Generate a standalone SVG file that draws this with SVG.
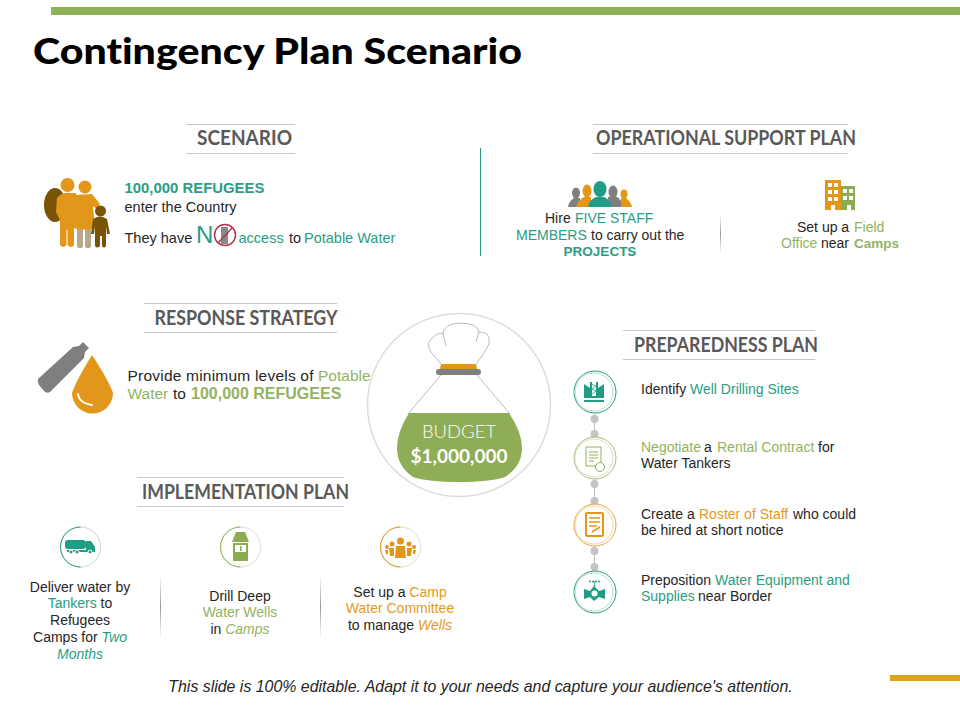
<svg xmlns="http://www.w3.org/2000/svg" width="960" height="720" viewBox="0 0 960 720">
<style>
text{font-family:"Liberation Sans",Arial,sans-serif;font-size:14px;fill:#262626;font-variant-ligatures:none}
.h{font-family:Lato,"Liberation Sans",sans-serif;font-size:20px;font-weight:700;fill:#595959;text-anchor:middle}
.c{text-anchor:middle}
.t{fill:#2a9d84}.g{fill:#93b35f}.o{fill:#e39a1c}
.b{font-weight:700}.i{font-style:italic}
.s{font-size:14.500px}.r{font-size:15.500px}
.rule{stroke:#c8c8c8;stroke-width:1;fill:none}
.tl{fill:#1f9e85}.gl{fill:#8bac50}.ol{fill:#e2961a}.br{fill:#7a5406}.gy{fill:#7f7f7f}
.dot{fill:#c4c4c4}
.bag{fill:none;stroke:#a8a8a8;stroke-width:.8}
</style>
<defs>
<linearGradient id="fade" x1="0" y1="0" x2="0" y2="1"><stop offset="0" stop-color="#999" stop-opacity="0"/><stop offset=".5" stop-color="#999"/><stop offset="1" stop-color="#999" stop-opacity="0"/></linearGradient>
</defs>
<rect x="51" y="7" width="909" height="8" fill="#8fb158"/>
<rect x="890" y="675" width="70" height="6" fill="#e2a021"/>
<text x="33" y="64" style="font-family:Lato,'Liberation Sans',sans-serif;font-size:36px;font-weight:900;fill:#000" textLength="489" lengthAdjust="spacingAndGlyphs">Contingency Plan Scenario</text>

<g id="connectors">
<path d="M480.500 148V256" stroke="#2a9d84" stroke-width="1" fill="none"/>
<rect x="720" y="215" width="1" height="38" fill="url(#fade)"/>
<rect x="160" y="576" width="1" height="62" fill="url(#fade)"/>
<rect x="320" y="576" width="1" height="62" fill="url(#fade)"/>
<path d="M594.500 414V438M594.500 478V503M594.500 546V570" stroke="#bbb" stroke-width="1" fill="none"/>
<circle class="dot" cx="594.500" cy="419" r="4"/><circle class="dot" cx="594.500" cy="434" r="4"/>
<circle class="dot" cx="594.500" cy="484" r="4"/><circle class="dot" cx="594.500" cy="501" r="4"/>
<circle class="dot" cx="594.500" cy="551" r="4"/><circle class="dot" cx="594.500" cy="567" r="4"/>
</g>

<g id="scenario">
<path class="rule" d="M186 124.500H295M186 153.500H295"/>
<text class="h" x="244.500" y="145" textLength="95" lengthAdjust="spacingAndGlyphs">SCENARIO</text>
<ellipse cx="55" cy="205" rx="11" ry="17" class="br"/>
<rect x="77" y="226" width="6" height="22" rx="2" fill="#b9a88c"/><rect x="85" y="226" width="6" height="22" rx="2" fill="#b9a88c"/>
<circle cx="67.500" cy="185" r="7" class="ol"/><circle cx="85" cy="187" r="6.500" class="ol"/>
<path class="ol" d="M57 198Q62 192 70 193H76V228H74V245Q71 249 67.500 245V230H66.500V245Q63 249 60 245V220L56 212Z"/>
<path class="ol" d="M75 195L92 194L100 204L97 209L93 206L95 228Q85 231 73 228Z"/>
<circle cx="100.500" cy="211" r="5.500" class="br"/>
<path class="br" d="M93 219Q100 214 107 219L110 234H107L106 226V246Q104 249 102 246V236H100V246Q97 249 95 246V226L94 234H91Z"/>
<text class="b t" x="124.500" y="193" style="font-size:14.900px">100,000 REFUGEES</text>
<text class="s" x="124.500" y="212">enter the Country</text>
<text class="s" x="124.500" y="243">They have</text>
<text x="196" y="243" style="font-size:24px;fill:#2a9d84">N</text>
<circle cx="225" cy="235" r="10.500" fill="none" stroke="#b5334a" stroke-width="1.500"/>
<rect x="221" y="227" width="7" height="17" fill="#8a8a8a"/>
<path d="M218 243L232 228" stroke="#b5334a" stroke-width="1.500"/>
<text class="s t" x="238.500" y="243">access</text>
<text class="s" x="289" y="243">to</text>
<text class="s t" x="304" y="243">Potable Water</text>
</g>

<g id="operational-support-plan">
<path class="rule" d="M593 124.500H848M593 153.500H848"/>
<text class="h" x="726" y="145" textLength="260" lengthAdjust="spacingAndGlyphs">OPERATIONAL SUPPORT PLAN</text>
<ellipse cx="576" cy="193" rx="4" ry="5.500" class="gy"/><path class="gy" d="M568 207Q569 201 574 198H580V207Z"/>
<ellipse cx="613" cy="192" rx="4.500" ry="6.500" class="gy"/><path class="gy" d="M608 207V197H617Q622 200 623 207Z"/>
<ellipse cx="587" cy="191" rx="4.500" ry="6.500" class="ol"/><path class="ol" d="M576 207Q578 200 584 197H591V207Z"/>
<ellipse cx="624" cy="194" rx="3.500" ry="4.500" class="ol"/><path class="ol" d="M621 198H626Q631 202 632 207H621Z"/>
<ellipse cx="600" cy="189" rx="6.500" ry="8" class="tl"/><path class="tl" d="M588 207Q589 200 596 197H604Q611 200 612 207Z"/>
<text x="545" y="223">Hire</text><text class="t" x="575" y="223">FIVE STAFF</text>
<text class="t" x="516" y="240">MEMBERS</text><text x="591" y="240">to carry out the</text>
<text class="b t c" x="600" y="256" style="font-size:13.500px">PROJECTS</text>
<rect x="825" y="180" width="16" height="30" class="ol"/>
<rect x="841" y="186" width="14" height="24" class="gl"/>
<path fill="#fff" d="M828 183h4v4h-4zM834 183h4v4h-4zM828 190h4v4h-4zM834 190h4v4h-4zM828 197h4v4h-4zM834 197h4v4h-4zM843 189h4v4h-4zM849 189h4v4h-4zM843 196h4v4h-4zM849 196h4v4h-4zM831 205h4v5h-4zM847 205h4v5h-4z"/>
<text x="797" y="232">Set up a</text><text class="g" x="854" y="232">Field</text>
<text class="g" x="781" y="248">Office</text><text x="821" y="248">near</text><text class="b g" x="854" y="248" style="font-size:13.500px">Camps</text>
</g>

<g id="response-strategy">
<path class="rule" d="M144 303.500H337M144 332.500H337"/>
<text class="h" x="246" y="325" textLength="183" lengthAdjust="spacingAndGlyphs">RESPONSE STRATEGY</text>
<path class="gy" d="M38 379L73 347L79 346L83 342L89 348L85 352L84 358L50 392Q47 394 44 391L39 385Q37 382 38 379Z"/>
<path class="ol" d="M92 355Q76 381 72 393A20.500 20.500 0 0 0 113 393Q109 381 92 355Z"/>
<path d="M78 394Q79 403 92 405" stroke="#fff" stroke-width="2" fill="none" stroke-linecap="round"/>
<text class="r" x="127.500" y="381" textLength="186" lengthAdjust="spacing">Provide minimum levels of</text><text class="r g" x="318" y="381">Potable</text>
<text class="r g" x="127.500" y="399">Water</text><text class="r" x="173" y="399">to</text><text class="b g" x="191" y="399" style="font-size:16px">100,000 REFUGEES</text>
</g>

<g id="budget">
<circle cx="459" cy="405" r="91.500" fill="#fff" stroke="#dcdcdc" stroke-width="1.500"/>
<path class="bag" d="M441 364L431 352Q424 342 436 335Q441 332 443 334L446 346M443 334Q443 324 460 323Q477 323 479 332L476 342M479 332Q491 331 489 344Q484 354 476 364"/>
<path class="bag" d="M441 375L408 414M477 375L510 414"/>
<path class="ol" d="M441 364H476L477 369H440Z"/>
<rect x="436" y="369" width="45" height="6" rx="3" fill="#7f7f7f"/>
<path d="M409 413H509Q522 432 522 448Q522 466 505 477Q490 482 459 482Q428 482 413 477Q397 466 397 448Q397 432 409 413Z" fill="#8fad56"/>
<text class="c" x="459" y="438" style="font-family:Lato,'Liberation Sans',sans-serif;font-size:18.500px;font-weight:300;fill:#fff">BUDGET</text>
<text class="c" x="459" y="463" style="font-family:Lato,'Liberation Sans',sans-serif;font-size:19px;font-weight:700;fill:#fff">$1,000,000</text>
</g>

<g id="preparedness-plan">
<path class="rule" d="M623 330.500H815M623 359.500H815"/>
<text class="h" x="726" y="352" textLength="184" lengthAdjust="spacingAndGlyphs">PREPAREDNESS PLAN</text>
</g>
<g id="step-well-drilling">
<circle cx="595" cy="392" r="21" fill="#fff" stroke="#2a9d84"/><circle cx="594" cy="392" r="19" fill="none" stroke="#bcd9d2"/>
<path class="tl" d="M584 384L590 388V382H598V388L604 384V398H584ZM584 400H604V402H584Z"/>
<rect x="592" y="381" width="4" height="15" fill="#fff"/>
<path d="M592 384L596 386L592 389L596 391L592 394" fill="none" stroke="#1f9e85" stroke-width=".8"/>
<text x="641" y="394">Identify</text><text class="t" x="690" y="394">Well Drilling Sites</text>
</g>
<g id="step-rental-contract">
<circle cx="595" cy="458" r="21" fill="#fff" stroke="#a9bf7e"/><circle cx="594" cy="458" r="19" fill="none" stroke="#d6e0c0"/>
<path d="M586 447H601V466H586Z" fill="none" stroke="#8fb158"/>
<path d="M589 452H598M589 455H598M589 458H598M589 461H594" stroke="#8fb158"/>
<circle cx="600" cy="467" r="4.500" fill="#fff" stroke="#8fb158"/>
<text class="g" x="641" y="452">Negotiate</text><text x="704" y="452">a</text><text class="g" x="717" y="452">Rental Contract</text><text x="818" y="452">for</text>
<text x="641" y="468">Water Tankers</text>
</g>
<g id="step-roster">
<circle cx="595" cy="525" r="21" fill="#fff" stroke="#e2a94a"/><circle cx="594" cy="525" r="19" fill="none" stroke="#f0d5a6"/>
<rect x="586" y="513" width="17" height="23" rx="1" fill="#fff" stroke="#e2961a" stroke-width="2"/>
<path d="M589 518H600M589 522H600M589 526H597" stroke="#e2961a" stroke-width="1.500"/>
<path d="M592 532L600 527" stroke="#e2961a" stroke-width="1.500"/>
<text x="641" y="519">Create a</text><text class="o" x="699" y="519">Roster of Staff</text><text x="793" y="519">who could</text>
<text x="641" y="535">be hired at short notice</text>
</g>
<g id="step-water-equipment">
<circle cx="595" cy="592" r="21" fill="#fff" stroke="#2a9d84"/><circle cx="594" cy="592" r="19" fill="none" stroke="#bcd9d2"/>
<path class="tl" d="M584 589L590 591L594 586L599 591L605 589V599L599 597L594 601L590 597L584 599Z"/>
<circle cx="594.500" cy="593.500" r="3" fill="#fff"/>
<path d="M589 581.500H600M594.500 581.500V587" stroke="#2a9d84" stroke-width="1.500" stroke-dasharray="2 1"/>
<text x="641" y="585">Preposition</text><text class="t" x="715" y="585">Water Equipment and</text>
<text class="t" x="641" y="601">Supplies</text><text x="698" y="601">near Border</text>
</g>

<g id="implementation-plan">
<path class="rule" d="M137 477.500H344M137 506.500H344"/>
<text class="h" x="245.500" y="499" textLength="207" lengthAdjust="spacingAndGlyphs">IMPLEMENTATION PLAN</text>
</g>
<g id="deliver-water">
<circle cx="80.500" cy="547" r="20" fill="#fff" stroke="#c5d8d3"/>
<path d="M80.500 527A20 20 0 0 0 80.500 567" fill="none" stroke="#2a9d84"/>
<rect x="65" y="540" width="21" height="9" rx="3" class="tl"/>
<path class="tl" d="M67 550H86V541H91L95 547V552H67Z"/>
<circle cx="71" cy="552" r="2" class="tl" stroke="#fff"/><circle cx="77" cy="552" r="2" class="tl" stroke="#fff"/><circle cx="90" cy="552" r="2" class="tl" stroke="#fff"/>
<text class="c" x="80" y="592">Deliver water by</text>
<text class="c" x="80" y="608"><tspan class="t">Tankers</tspan> to</text>
<text class="c" x="80" y="625">Refugees</text>
<text class="c" x="80" y="642">Camps for <tspan class="t i">Two</tspan></text>
<text class="c t i" x="80" y="659">Months</text>
</g>
<g id="drill-wells">
<circle cx="240.500" cy="547" r="20" fill="#fff" stroke="#d9dfcb"/>
<path d="M240.500 527A20 20 0 0 0 240.500 567" fill="none" stroke="#8fb158"/>
<path class="gl" d="M236 532H245L249 542H232ZM233 543H248V545H233ZM233 545H235V552H233ZM246 545H248V552H246ZM233 552H248V561H233Z"/>
<rect x="240" y="546" width="1.500" height="5" class="gl"/>
<text class="c" x="240" y="601">Drill Deep</text>
<text class="c g" x="240" y="617">Water Wells</text>
<text class="c" x="240" y="634">in <tspan class="g i">Camps</tspan></text>
</g>
<g id="water-committee">
<circle cx="400.500" cy="547" r="20" fill="#fff" stroke="#e4dccb"/>
<path d="M400.500 527A20 20 0 0 0 400.500 567" fill="none" stroke="#e2961a"/>
<circle cx="400.500" cy="541" r="3.500" class="ol"/><circle cx="392" cy="544" r="2.500" class="ol"/><circle cx="409" cy="544" r="2.500" class="ol"/><circle cx="387" cy="547" r="2" class="ol"/><circle cx="414" cy="547" r="2" class="ol"/>
<path class="ol" d="M396 546H405L406 558H395ZM389 548H394V556H390ZM407 548H412L411 556H407ZM385 550H388V554H386ZM413 550H416L415 554H413Z"/>
<text class="c" x="400" y="597">Set up a <tspan class="o">Camp</tspan></text>
<text class="c o" x="400" y="613">Water Committee</text>
<text class="c" x="400" y="630">to manage <tspan class="o i">Wells</tspan></text>
</g>
<text class="c i" x="480.500" y="692" style="font-size:15.900px">This slide is 100% editable. Adapt it to your needs and capture your audience's attention.</text>
</svg>
